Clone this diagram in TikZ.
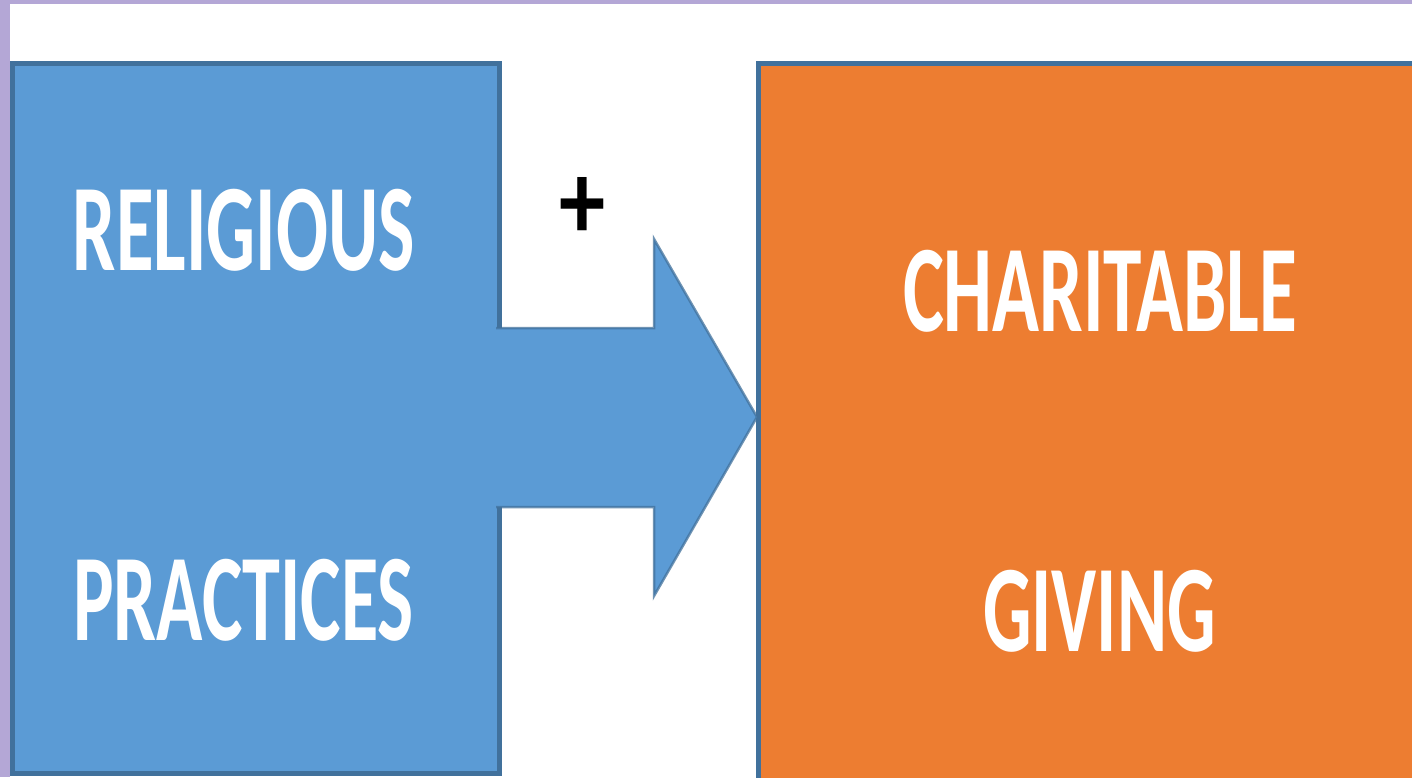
\documentclass[tikz,border=0pt]{standalone}
\usepackage{fontspec}
\usepackage{graphicx}
\setmainfont{Carlito}
\definecolor{framepurple}{HTML}{B4A7D6}
\definecolor{boxblue}{HTML}{5B9BD5}
\definecolor{edgeblue}{HTML}{41719C}
\definecolor{boxorange}{HTML}{ED7D31}
\tikzset{
  boxlabel/.style={text=white, anchor=base, inner sep=0pt, font=\fontsize{124}{124}\selectfont\bfseries},
  panel/.style={draw=edgeblue, line width=5pt},
}
\begin{document}
\begin{tikzpicture}[x=1pt,y=-1pt]
\useasboundingbox (0,0) rectangle (1412,777);
% frame
\fill[white] (0,0) rectangle (1412,777);
% left box
\path[panel, fill=boxblue] (12,63) rectangle (499,773);
% right box
\path[panel, fill=boxorange] (758,63) rectangle (1430,780);
% arrow
\coordinate (a0) at (496,328);
\coordinate (a1) at (654,328);
\coordinate (a2) at (654,239);
\coordinate (tip) at (757,417);
\coordinate (a3) at (654,596);
\coordinate (a4) at (654,507);
\coordinate (a5) at (496,507);
\fill[boxblue] (a0) -- (a1) -- (a2) -- (tip) -- (a3) -- (a4) -- (a5) -- cycle;
\draw[edgeblue, draw opacity=0.75, line width=2.5pt, line join=miter] (a0) -- (a1) -- (a2) -- (tip) -- (a3) -- (a4) -- (a5);
% purple frame strips
\fill[framepurple] (0,0) rectangle (1412,4);
\fill[framepurple] (0,0) rectangle (10,777);
% labels
\node[boxlabel] (rel) at (244,270) {\resizebox{342pt}{\height}{RELIGIOUS}};
\node[boxlabel] (pra) at (243.5,640) {\resizebox{341pt}{\height}{PRACTICES}};
\node[boxlabel] (cha) at (1100,331) {\resizebox{394pt}{\height}{CHARITABLE}};
\node[boxlabel] (giv) at (1099.5,651) {\resizebox{233pt}{\height}{GIVING}};
\node[inner sep=0pt, text=black] (plus) at (582,208) {\resizebox{46pt}{62pt}{\bfseries +}};
\end{tikzpicture}
\end{document}
